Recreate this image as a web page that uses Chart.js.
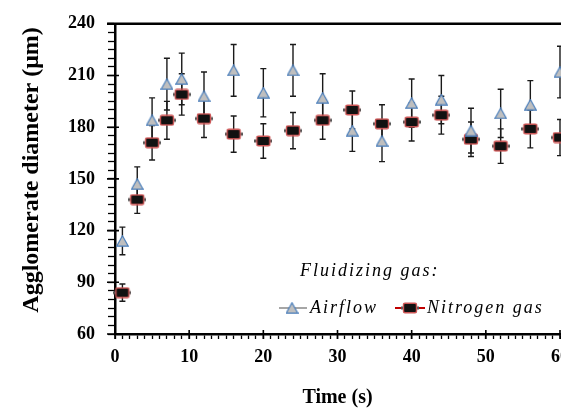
<!DOCTYPE html>
<html><head><meta charset="utf-8">
<script src="https://cdn.jsdelivr.net/npm/chart.js@4.4.1/dist/chart.umd.min.js"></script>
<style>html,body{margin:0;padding:0;background:#fff;overflow:hidden;} #wrap{width:580px;height:408px;}</style>
</head><body><div id="wrap"><canvas id="c" width="580" height="408"></canvas></div>
<script>
const timeSeconds = [1,3,5,7,9,12,16,20,24,28,32,36,40,44,48,52,56,60];
const airflowDiameter = [114,147,184,205,208,198,213,200,213,197,178,172,194,196,178,188,193,212];
const airflowError = [8,10,13,15,15,14,15,14,15,14,12,12,14,14,13,14,14,15];
const nitrogenDiameter = [84,138,171,184,199,185,176,172,178,184,190,182,183,187,173,169,179,174];
const nitrogenError = [5,8,10,11,12,11,10.5,10,10.5,11,11,11,11,11,10,10,11,10.5];
const xTickLabels = [0,10,20,30,40,50,60];
const yTickLabels = [60,90,120,150,180,210,240];
const seriesNames = ['Airflow','Nitrogen gas'];
const legendTitle = 'Fluidizing gas:';
const xTitle = 'Time (s)';
const yTitle = 'Agglomerate diameter (μm)';

function triMarker(){
  const c=document.createElement('canvas'); c.width=13; c.height=12;
  const g=c.getContext('2d');
  g.beginPath(); g.moveTo(6.5,0.8); g.lineTo(12.3,11.2); g.lineTo(0.7,11.2); g.closePath();
  g.fillStyle='#bfbfbf'; g.fill(); g.strokeStyle='#4a7ebb'; g.lineWidth=1.2; g.stroke();
  return c;
}
function sqMarker(){
  const c=document.createElement('canvas'); c.width=18; c.height=12;
  const g=c.getContext('2d');
  g.fillStyle='#555'; g.fillRect(0,4.5,18,3);
  const x0=2.5,y0=1.2,w=13,h=9.6,r=1.5;
  g.beginPath();
  g.moveTo(x0+r,y0); g.lineTo(x0+w-r,y0); g.quadraticCurveTo(x0+w,y0,x0+w,y0+r);
  g.lineTo(x0+w,y0+h-r); g.quadraticCurveTo(x0+w,y0+h,x0+w-r,y0+h);
  g.lineTo(x0+r,y0+h); g.quadraticCurveTo(x0,y0+h,x0,y0+h-r);
  g.lineTo(x0,y0+r); g.quadraticCurveTo(x0,y0,x0+r,y0); g.closePath();
  g.fillStyle='#111'; g.fill(); g.strokeStyle='#cc5555'; g.lineWidth=1.4; g.stroke();
  return c;
}
const TRI = triMarker(), SQ = sqMarker();

const errorBars = {id:'errorBars', beforeDatasetsDraw(chart){
  const {ctx, scales:{x,y}} = chart;
  const sets=[[airflowDiameter,airflowError],[nitrogenDiameter,nitrogenError]];
  ctx.save(); ctx.strokeStyle='#1a1a1a'; ctx.lineWidth=1.4;
  sets.forEach(([vals,errs])=>{
    vals.forEach((v,i)=>{
      const px=x.getPixelForValue(timeSeconds[i]);
      const t=y.getPixelForValue(v+errs[i]);
      const b=y.getPixelForValue(v-errs[i]);
      ctx.beginPath();
      ctx.moveTo(px,t); ctx.lineTo(px,b);
      ctx.moveTo(px-3,t); ctx.lineTo(px+3,t);
      ctx.moveTo(px-3,b); ctx.lineTo(px+3,b);
      ctx.stroke();
    });
  });
  ctx.restore();
}};

const frame = {id:'frame', afterDraw(chart){
  const {ctx, chartArea:a, scales:{x,y}} = chart;
  ctx.save(); ctx.strokeStyle='#000';
  ctx.lineWidth=2.5; ctx.beginPath(); ctx.moveTo(a.left-8,a.top); ctx.lineTo(chart.width,a.top); ctx.stroke();
  ctx.lineWidth=1.6; ctx.beginPath();
  yTickLabels.forEach(v=>{const py=y.getPixelForValue(v); ctx.moveTo(a.left-8,py); ctx.lineTo(a.left+4,py);});
  xTickLabels.forEach(v=>{const px=x.getPixelForValue(v); ctx.moveTo(px,a.bottom-4); ctx.lineTo(px,a.bottom+5);});
  ctx.stroke(); ctx.restore();
}};

const legendBox = {id:'legendBox', afterDraw(chart){
  const {ctx} = chart; const ds = chart.data.datasets;
  ctx.save();
  ctx.fillStyle='#000'; ctx.font='italic 18px "Liberation Serif"';
  ctx.textBaseline='middle'; ctx.textAlign='left';
  if ('letterSpacing' in ctx) ctx.letterSpacing='2px';
  ctx.fillText(legendTitle, 300, 271);
  const rowY=308;
  ctx.lineWidth=2;
  ctx.strokeStyle='#a6a6a6'; ctx.beginPath(); ctx.moveTo(279,rowY); ctx.lineTo(307,rowY); ctx.stroke();
  ctx.drawImage(TRI, 292-6.5, rowY-6);
  ctx.fillText(ds[0].label, 310, rowY);
  ctx.strokeStyle='#c00000'; ctx.beginPath(); ctx.moveTo(395,rowY); ctx.lineTo(425,rowY); ctx.stroke();
  ctx.drawImage(SQ, 410-9, rowY-6);
  ctx.fillText(ds[1].label, 427, rowY);
  ctx.restore();
}};

Chart.defaults.color = '#000';
new Chart(document.getElementById('c'), {
  type: 'scatter',
  data: { datasets: [
    {label: seriesNames[0], data: timeSeconds.map((t,i)=>({x:t,y:airflowDiameter[i]})), pointStyle: TRI, pointRadius: 6, showLine:false, clip:false},
    {label: seriesNames[1], data: timeSeconds.map((t,i)=>({x:t,y:nitrogenDiameter[i]})), pointStyle: SQ, pointRadius: 6, showLine:false, clip:false}
  ]},
  options: {
    responsive:false, animation:false, devicePixelRatio:1,
    layout:{padding:{top:17,right:20,left:0,bottom:0}},
    plugins:{legend:{display:false}, tooltip:{enabled:false}},
    scales:{
      x:{type:'linear', min:0, max:60,
        afterFit(s){ s.height = 74; },
        ticks:{stepSize:1, autoSkip:false, maxRotation:0, padding:8,
          font:{family:'"Liberation Serif"', size:18, weight:'bold'},
          callback:v=> xTickLabels.includes(v) ? String(v) : ''},
        grid:{drawOnChartArea:false, tickLength:5, tickColor:'#000', tickWidth:1.3},
        border:{display:true, color:'#000', width:2.5},
        title:{display:true, text:xTitle, font:{family:'"Liberation Serif"', size:20, weight:'bold', lineHeight:1}, padding:{top:0,bottom:0}}
      },
      y:{type:'linear', min:60, max:240,
        afterFit(s){ s.width = 115; },
        ticks:{stepSize:5, autoSkip:false, padding:13, maxTicksLimit:100,
          font:{family:'"Liberation Serif"', size:18, weight:'bold'},
          callback:v=> yTickLabels.includes(v) ? String(v) : ''},
        grid:{drawOnChartArea:false, tickLength:7, tickColor:'#000', tickWidth:1.3},
        border:{display:true, color:'#000', width:2.5},
        title:{display:true, text:'   '+yTitle, font:{family:'"Liberation Serif"', size:24, weight:'bold', lineHeight:1}, padding:{top:20,bottom:0}}
      }
    }
  },
  plugins:[errorBars, frame, legendBox]
});
</script></body></html>
